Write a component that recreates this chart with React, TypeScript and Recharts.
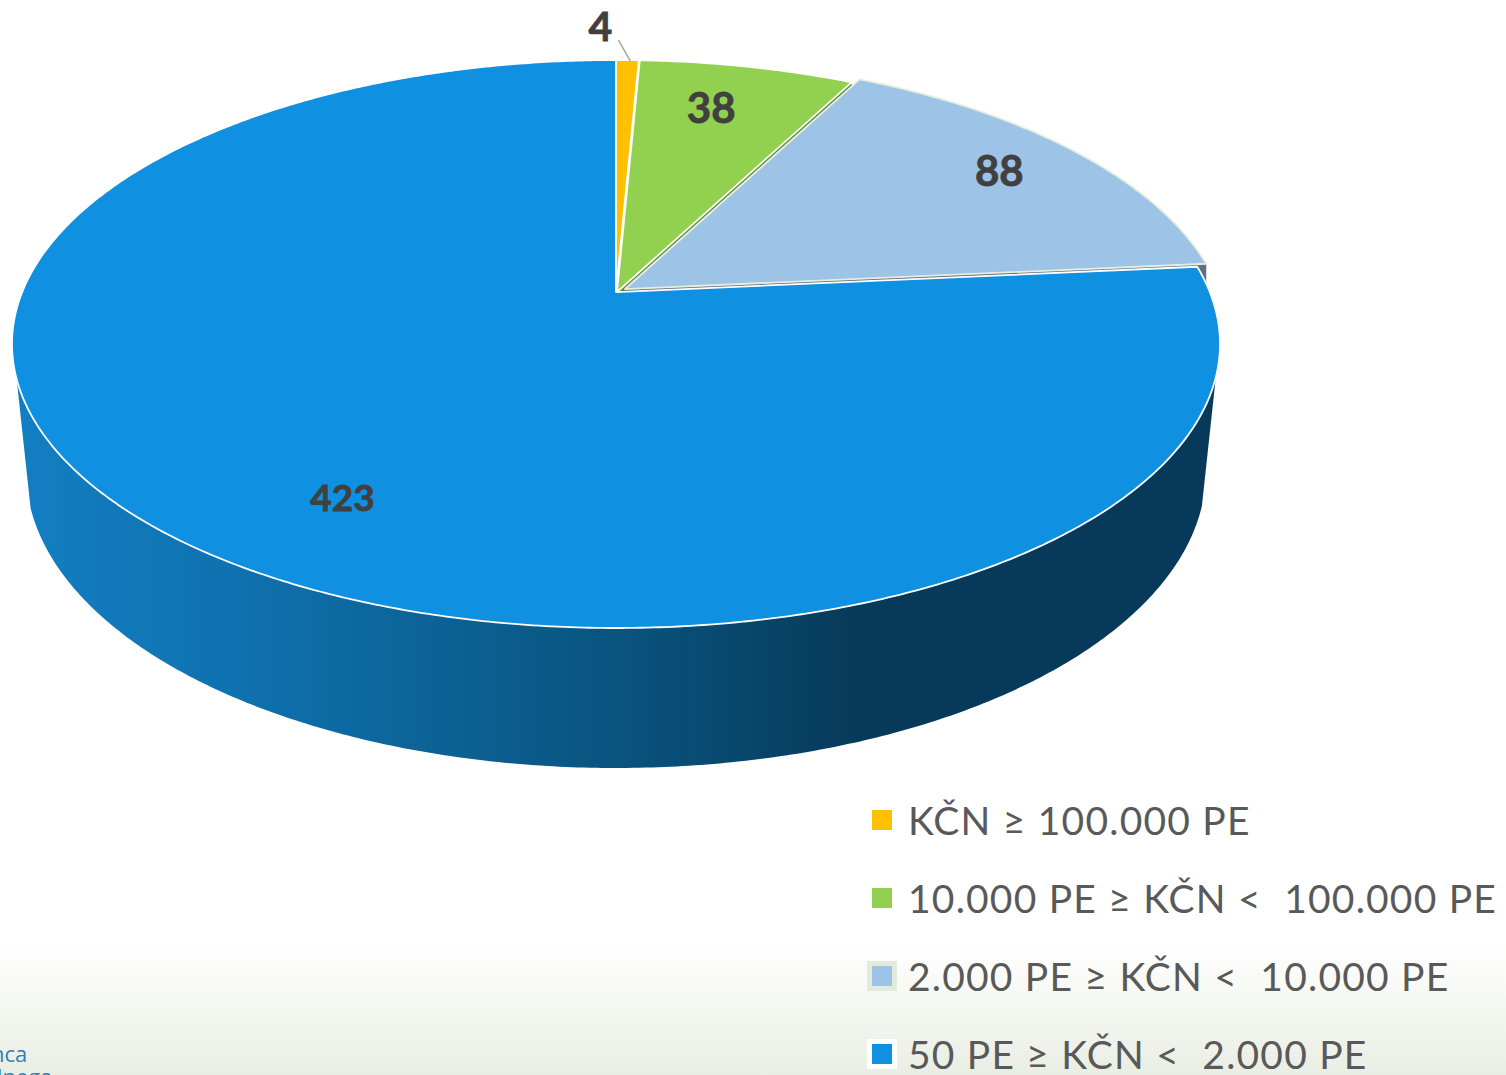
import { PieChart, Pie, Legend } from 'recharts';

const categories = [
  'KČN ≥ 100.000 PE',
  '10.000 PE ≥ KČN <  100.000 PE',
  '2.000 PE ≥ KČN <  10.000 PE',
  '50 PE ≥ KČN <  2.000 PE',
];
const counts = [4, 38, 88, 423];
const colors = ['#FFC000', '#92D050', '#9DC3E6', '#0F90E0'];
const edgeColors = ['#A67D00', '#5C8A38', '#5F6F80', '#0A5788'];
const haloColors = ['transparent', 'transparent', '#E2ECDC', '#FFFFFF'];

const tableData = categories.map((name, i) => ({ name, value: counts[i], fill: colors[i] }));

// layout of the tilted disc
const TILT = 284 / 604;
const K = 0.183; // perspective, moves the pie's apex above the middle of the ellipse
const BOTTOM_RX = 590 / 604;
const BOTTOM_RY = 297 / 604;
const BOTTOM_DY = 127;
const WALL_U = -0.115;
const DEPTH = 140;
const SHIFT = [[0, 0], [1, 0], [9, -3], [0, 0]];
const LABEL_SPOT = [null, { along: 0.43, r: 0.79, size: 42 }, { along: 0.49, r: 0.832, size: 42 }, { along: 0.4617, r: 0.77, size: 37 }];

const tToUnit = (t: number, r = 1) => {
  const rad = (t * Math.PI) / 180;
  const x = r * Math.sin(rad);
  const y = r * Math.cos(rad);
  const d = 1 + K * y;
  return { a: (x * Math.sqrt(1 - K * K)) / d, u: (y + K) / d };
};

const project = (cx: number, cy: number, radius: number, t: number, r = 1) => {
  const { a, u } = tToUnit(t, r);
  return { x: cx + a * radius, y: cy - u * radius * TILT };
};

const projectBottom = (cx: number, cy: number, radius: number, t: number) => {
  const { a, u } = tToUnit(t);
  return { x: cx + a * radius * BOTTOM_RX, y: cy + BOTTOM_DY - u * radius * BOTTOM_RY };
};

const toPath = (pts: { x: number; y: number }[]) =>
  pts.map((p, i) => `${i ? 'L' : 'M'}${p.x.toFixed(2)} ${p.y.toFixed(2)}`).join(' ');

const Slice3D = (props: any) => {
  const { cx, cy, outerRadius, startAngle, endAngle, fill, name } = props;
  const idx = categories.indexOf(name);
  const [dx, dy] = SHIFT[idx];
  const t0 = 90 - startAngle;
  const t1 = 90 - endAngle;
  const steps = Math.max(8, Math.ceil((t1 - t0) * 2));

  const arc = [];
  const wallTop = [];
  const wallBottom = [];
  for (let s = 0; s <= steps; s++) {
    const t = t0 + ((t1 - t0) * s) / steps;
    arc.push(project(cx + dx, cy + dy, outerRadius, t));
    if (tToUnit(t).u <= WALL_U) {
      wallTop.push(project(cx + dx, cy + dy, outerRadius, t));
      wallBottom.push(projectBottom(cx + dx, cy + dy, outerRadius, t));
    }
  }
  const apex = project(cx + dx, cy + dy, outerRadius, 0, 0);
  const end = arc[arc.length - 1];
  const face = [apex, end, { x: end.x, y: end.y + DEPTH }, { x: apex.x, y: apex.y + DEPTH }];

  return (
    <g>
      <defs>
        <linearGradient id="wallFill" gradientUnits="userSpaceOnUse" x1="12" y1="0" x2="1220" y2="0">
          <stop offset="0" stopColor="#127FC3" />
          <stop offset="0.2" stopColor="#0F70AD" />
          <stop offset="0.5" stopColor="#09547F" />
          <stop offset="0.7" stopColor="#073A5A" />
          <stop offset="1" stopColor="#073A5A" />
        </linearGradient>
      </defs>
      {wallTop.length > 1 && (
        <path d={`${toPath([...wallTop, ...wallBottom.reverse()])} Z`} fill="url(#wallFill)" />
      )}
      {idx < 3 && <path d={`${toPath(face)} Z`} fill={edgeColors[idx]} />}
      <path
        d={`${toPath([apex, ...arc])} Z`}
        fill={fill}
        stroke={idx === 2 ? '#E6EFDF' : '#FFFFFF'}
        strokeWidth={1.8}
        strokeLinejoin="round"
      />
    </g>
  );
};

const renderLabel = (props: any) => {
  const { cx, cy, outerRadius, startAngle, endAngle, name, value } = props;
  const idx = categories.indexOf(name);
  const [dx, dy] = SHIFT[idx];
  const t0 = 90 - startAngle;
  const t1 = 90 - endAngle;
  const font = { fontFamily: 'Lato', fontWeight: 700, fill: '#404040', stroke: '#404040', strokeWidth: 0.8 };
  const spot = LABEL_SPOT[idx];

  if (!spot) {
    // small slice: label sits outside with a leader line
    const rim = project(cx, cy, outerRadius, (t0 + t1) / 2);
    return (
      <g>
        <line x1={rim.x + 3} y1={rim.y + 1} x2={rim.x - 9} y2={rim.y - 20} stroke="#A6A6A6" strokeWidth={1.5} />
        <text x={rim.x - 27} y={rim.y - 35} textAnchor="middle" dominantBaseline="central" fontSize={41} {...font}>
          {value}
        </text>
      </g>
    );
  }
  const p = project(cx + dx, cy + dy, outerRadius, t0 + (t1 - t0) * spot.along, spot.r);
  return (
    <text x={p.x} y={p.y} textAnchor="middle" dominantBaseline="central" fontSize={spot.size} {...font}>
      {value}
    </text>
  );
};

const renderLegend = () => (
  <div style={{ fontFamily: 'Lato', fontSize: 39, letterSpacing: 1.2, color: '#595959', whiteSpace: 'pre' }}>
    {categories.map((name, i) => (
      <div key={name} style={{ display: 'flex', alignItems: 'center', height: 78 }}>
        <span
          style={{
            width: 20,
            height: 20,
            marginRight: 16,
            background: colors[i],
            boxShadow: `0 0 0 5px ${haloColors[i]}`,
            flex: 'none',
          }}
        />
        <span>{name}</span>
      </div>
    ))}
  </div>
);

export default function App() {
  return (
    <div
      style={{
        position: 'absolute',
        left: 0,
        top: 0,
        width: 1506,
        height: 1075,
        overflow: 'hidden',
        background: 'linear-gradient(180deg, #FFFFFF 0, #FFFFFF 945px, #F6F8F2 1000px, #E9EEE4 1075px)',
      }}
    >
      <PieChart width={1506} height={1075} margin={{ top: 0, right: 0, bottom: 0, left: 0 }}>
        <Pie
          data={tableData}
          dataKey="value"
          nameKey="name"
          cx={616}
          cy={344}
          innerRadius={0}
          outerRadius={604}
          startAngle={90}
          endAngle={-270}
          stroke="none"
          shape={Slice3D}
          label={renderLabel}
          labelLine={false}
          isAnimationActive={false}
        />
        <Legend
          content={renderLegend}
          wrapperStyle={{ position: 'absolute', left: 872, top: 781, width: 634, bottom: 'auto', right: 'auto' }}
        />
      </PieChart>
      <div
        style={{
          position: 'absolute',
          left: 0,
          top: 1042,
          fontFamily: 'Open Sans',
          fontSize: 22,
          lineHeight: '23px',
          color: '#2F7FB8',
        }}
      >
        <div style={{ marginLeft: -9 }}>nca</div>
        <div style={{ marginLeft: -11 }}>dnega</div>
      </div>
    </div>
  );
}
